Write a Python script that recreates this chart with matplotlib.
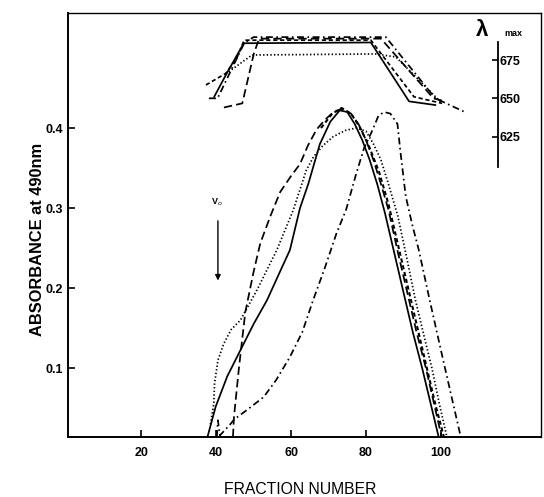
import matplotlib
matplotlib.use('Agg')
import matplotlib.pyplot as plt

plt.rcParams['font.family'] = ['Liberation Sans', 'DejaVu Sans']
plt.rcParams['lines.scale_dashes'] = False

# absorbance at 490 nm
solid_x = [37.7, 39.9, 43, 46.5, 50, 53.6, 57, 59.7, 62.4, 64.6, 67.7, 70.5, 73, 75, 77, 79, 81, 83, 85, 87.5, 90, 92.5, 95, 97.3, 99.4]
solid_y = [0.014, 0.052, 0.09, 0.1225, 0.155, 0.185, 0.22, 0.2475, 0.3, 0.33, 0.38, 0.408, 0.422, 0.42, 0.405, 0.385, 0.36, 0.33, 0.295, 0.245, 0.195, 0.145, 0.10, 0.055, 0.014]

ldash_x = [44.5, 44.8, 46.1, 47.8, 50, 51.8, 54.5, 57.1, 60, 62.4, 64.5, 66.8, 69, 71.1, 73.4, 76, 78, 80, 82, 84, 86, 88.5, 91, 93.5, 96, 98.2, 100.2]
ldash_y = [0.014, 0.04, 0.10, 0.17, 0.22, 0.256, 0.29, 0.32, 0.34, 0.355, 0.378, 0.398, 0.41, 0.419, 0.424, 0.418, 0.405, 0.385, 0.36, 0.33, 0.298, 0.245, 0.195, 0.145, 0.10, 0.055, 0.014]

sdash_x = [68, 71, 73.5, 76, 78.5, 81, 83.5, 86, 88.5, 91, 93.5, 96, 98.5, 100.8]
sdash_y = [0.40, 0.418, 0.425, 0.418, 0.40, 0.375, 0.345, 0.305, 0.255, 0.205, 0.155, 0.105, 0.055, 0.014]

dot_x = [38.5, 39.4, 39.6, 40.5, 42.1, 44, 46.5, 50.9, 56.2, 60.6, 64.1, 66, 68.5, 71.2, 74.5, 77.4, 80, 82, 84, 86, 88.5, 91, 93.2, 95.5, 97.6, 99.6, 101.6]
dot_y = [0.03, 0.056, 0.081, 0.11, 0.131, 0.148, 0.16, 0.1975, 0.2475, 0.2975, 0.3475, 0.364, 0.378, 0.389, 0.397, 0.40, 0.396, 0.38, 0.36, 0.33, 0.29, 0.235, 0.185, 0.14, 0.10, 0.055, 0.014]

dd_x = [40.2, 40.5, 41.0, 43.8, 44.8, 48, 52.7, 56, 59.7, 63, 65.9, 69, 72.1, 74.7, 77.4, 79.5, 81.8, 83.3, 84.8, 86.5, 88.4, 89.2, 90.6, 92.3, 94.1, 97, 100, 102.8, 105.3]
dd_y = [0.014, 0.035, 0.016, 0.03, 0.036, 0.047, 0.064, 0.085, 0.114, 0.145, 0.185, 0.225, 0.268, 0.298, 0.343, 0.375, 0.398, 0.415, 0.42, 0.418, 0.405, 0.37, 0.315, 0.28, 0.2475, 0.185, 0.1225, 0.065, 0.014]

# lambda max (nm)
lam_solid_x = [39.5, 43, 47.4, 81.3, 91.5, 98.5]
lam_solid_y = [651, 667, 686, 686.5, 648, 645.6]
lam_ldash_x = [42.1, 47.0, 50.1, 51.5, 84, 98, 101]
lam_ldash_y = [644, 646.7, 679.4, 689, 689, 650, 648]
lam_sdash_x = [37.3, 42.6, 45.5, 47.5, 81.3, 92.8, 100.3]
lam_sdash_y = [658.7, 666.3, 676, 688, 688, 651, 646.7]
lam_dot_x = [42.6, 49.6, 82.6, 88, 100.3]
lam_dot_y = [666, 678.3, 679, 677, 646.7]
lam_dd_x = [38.1, 40.4, 47.5, 50, 85.3, 98.5, 106.4]
lam_dd_y = [650, 650, 686, 690, 690, 650, 641]

x_ticks = [20, 40, 60, 80, 100]
y_ticks = [0.1, 0.2, 0.3, 0.4]
lam_ticks = [625, 650, 675]

fig = plt.figure(figsize=(5.44, 4.97), dpi=100)
ax = fig.add_axes([0.125, 0.1207, 0.8695, 0.8531])

lw = 1.25
ax.plot(solid_x, solid_y, color='black', lw=lw)
ax.plot(ldash_x, ldash_y, color='black', lw=lw, dashes=(6, 3))
ax.plot(sdash_x, sdash_y, color='black', lw=1.5, dashes=(3, 2))
ax.plot(dot_x, dot_y, color='black', lw=lw, dashes=(1, 1.6))
ax.plot(dd_x, dd_y, color='black', lw=lw, dashes=(5, 2.5, 1.2, 2.5))

ax.set_xlim(0.5, 126.7)
ax.set_ylim(0.0141, 0.5436)
ax.set_xticks(x_ticks)
ax.set_yticks(y_ticks)
ax.tick_params(direction='in', length=5, width=1.2, labelsize=9)
ax.tick_params(axis='x', pad=7)
for lab in ax.get_xticklabels() + ax.get_yticklabels():
    lab.set_fontweight('bold')
for sp in ax.spines.values():
    sp.set_linewidth(1.0)
ax.spines['left'].set_linewidth(1.4)
ax.spines['bottom'].set_linewidth(1.4)

ax.set_ylabel('ABSORBANCE at 490nm', fontsize=11.8, fontweight='bold')
ax.yaxis.set_label_coords(-0.048, 0.465)
ax.set_xlabel('FRACTION NUMBER', fontsize=11.3)
ax.xaxis.set_label_coords(0.49, -0.105)

# V0 arrow
ax.annotate('', xy=(40.5, 0.206), xytext=(40.5, 0.2875),
            arrowprops=dict(arrowstyle='-|>', lw=1.0, color='black', mutation_scale=8))
ax.text(40.3, 0.300, 'V$_o$', fontsize=6.5, fontweight='bold', ha='center', va='bottom')

# lambda max scale
ax2 = ax.twinx()
ax2.set_ylim(428.6, 705.75)
ax2.plot(lam_solid_x, lam_solid_y, color='black', lw=lw)
ax2.plot(lam_ldash_x, lam_ldash_y, color='black', lw=lw, dashes=(6, 3))
ax2.plot(lam_sdash_x, lam_sdash_y, color='black', lw=lw, dashes=(3, 2))
ax2.plot(lam_dot_x, lam_dot_y, color='black', lw=lw, dashes=(1, 1.6))
ax2.plot(lam_dd_x, lam_dd_y, color='black', lw=lw, dashes=(5, 2.5, 1.2, 2.5))
for s in ['left', 'top', 'bottom']:
    ax2.spines[s].set_visible(False)
ax2.spines['right'].set_position(('axes', 0.9097))
ax2.spines['right'].set_bounds(605, 687)
ax2.spines['right'].set_linewidth(1.3)
ax2.set_yticks(lam_ticks)
ax2.tick_params(axis='y', direction='in', length=4, width=1.2, labelsize=9, pad=1)
for lab in ax2.get_yticklabels():
    lab.set_fontweight('bold')

fig.text(482 / 544, 1 - 31 / 497, '\u03bb', fontsize=16, fontweight='bold', ha='center', va='center')
fig.text(504 / 544, 1 - 33 / 497, 'max', fontsize=6.5, fontweight='bold', ha='left', va='center')

fig.savefig('out.png', dpi=100)
